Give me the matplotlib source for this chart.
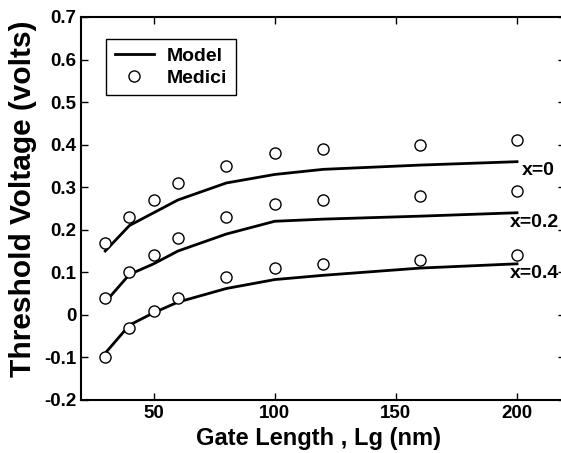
import numpy as np
import matplotlib.pyplot as plt

plt.rcParams['font.family'] = ['Liberation Sans', 'DejaVu Sans']
plt.rcParams['font.weight'] = 'bold'

# gate length (nm)
lg = [30, 40, 50, 60, 80, 100, 120, 160, 200]

# model curves
model_x0 = [0.15, 0.21, 0.24, 0.27, 0.31, 0.33, 0.342, 0.352, 0.36]
model_x02 = [0.03, 0.095, 0.12, 0.15, 0.19, 0.22, 0.225, 0.232, 0.24]
model_x04 = [-0.09, -0.024, 0.005, 0.03, 0.062, 0.083, 0.093, 0.11, 0.12]

# medici simulation points
medici_x0 = [0.17, 0.23, 0.27, 0.31, 0.35, 0.38, 0.39, 0.40, 0.41]
medici_x02 = [0.04, 0.10, 0.14, 0.18, 0.23, 0.26, 0.27, 0.28, 0.29]
medici_x04 = [-0.10, -0.03, 0.01, 0.04, 0.09, 0.11, 0.12, 0.13, 0.14]

curve_labels = ["x=0", "x=0.2", "x=0.4"]
xticks = [50, 100, 150, 200]
yticks = [-0.2, -0.1, 0, 0.1, 0.2, 0.3, 0.4, 0.5, 0.6, 0.7]
ytick_labels = ["-0.2", "-0.1", "0", "0.1", "0.2", "0.3", "0.4", "0.5", "0.6", "0.7"]

fig = plt.figure(figsize=(5.61, 4.53), dpi=100)
ax = fig.add_axes([0.1444, 0.117, 0.8636, 0.8455])

models = [model_x0, model_x02, model_x04]
medicis = [medici_x0, medici_x02, medici_x04]
for i, (m, s) in enumerate(zip(models, medicis)):
    ax.plot(lg, m, color='black', lw=2, label='Model' if i == 0 else None)
    ax.plot(lg, s, 'o', ms=8, mfc='white', mec='black', mew=1,
            label='Medici' if i == 0 else None)

# curve annotations
ax.text(202, 0.36, curve_labels[0], fontsize=14, fontweight='bold', va='top', ha='left')
ax.text(197, 0.238, curve_labels[1], fontsize=14, fontweight='bold', va='top', ha='left')
ax.text(197, 0.117, curve_labels[2], fontsize=14, fontweight='bold', va='top', ha='left')

ax.set_xlim(20, 220)
ax.set_ylim(-0.2, 0.7)
ax.set_xticks(xticks)
ax.set_yticks(yticks)
ax.set_yticklabels(ytick_labels)
ax.tick_params(direction='in', length=5, width=1, top=True, right=True, labelsize=13.5)
for lab in ax.get_xticklabels() + ax.get_yticklabels():
    lab.set_fontweight('bold')
for sp in ax.spines.values():
    sp.set_linewidth(1.5)

ax.set_xlabel("Gate Length , Lg (nm)", fontsize=17, fontweight='bold')
ax.xaxis.set_label_coords(0.49, -0.07)
ax.set_ylabel("Threshold Voltage (volts)", fontsize=21.5, fontweight='bold')
ax.yaxis.set_label_coords(-0.09, 0.525)

leg = ax.legend(loc='upper left', bbox_to_anchor=(0.052, 0.943), borderaxespad=0,
                fancybox=False, edgecolor='black', framealpha=1, fontsize=14,
                handlelength=2.0, handletextpad=0.65, borderpad=0.45, labelspacing=0.2)
leg.get_frame().set_linewidth(1)
for t in leg.get_texts():
    t.set_fontweight('bold')

fig.savefig("out.png", dpi=100)
